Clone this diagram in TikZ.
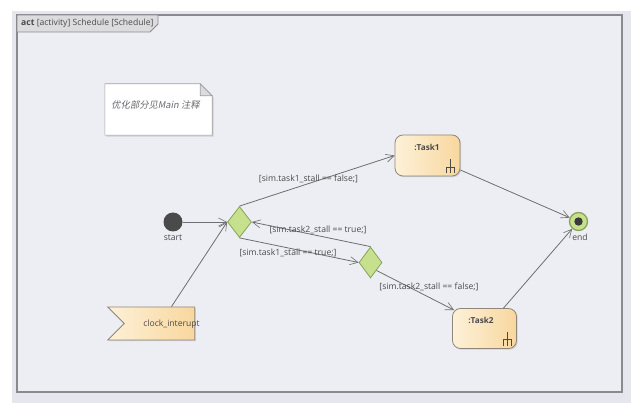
\documentclass[tikz,border=0pt]{standalone}
\usepackage{fontspec}
\setmainfont{Open Sans}
\newfontfamily\cjk[FakeSlant=0.2]{Noto Sans CJK SC}
\usetikzlibrary{arrows.meta,shapes.geometric,shapes.symbols,calc,shadows}
\definecolor{bgouter}{HTML}{E6E7EE}
\definecolor{bginner}{HTML}{EDEEF3}
\definecolor{framec}{HTML}{8A8A8E}
\definecolor{tabfill}{HTML}{DCDCDE}
\definecolor{linec}{HTML}{6E6E6E}
\definecolor{txtc}{HTML}{4A4A4A}
\definecolor{taskl}{HTML}{FDF1D8}
\definecolor{taskr}{HTML}{F8D79E}
\definecolor{taskborder}{HTML}{8E8678}
\definecolor{dfill}{HTML}{C6E08E}
\definecolor{dborder}{HTML}{86A456}
\definecolor{enddot}{HTML}{3A3A3A}
\definecolor{startc}{HTML}{4A4A4A}
\definecolor{notetxt}{HTML}{6A6A70}
\tikzset{
  conn/.style={draw=linec, line width=0.8pt, -{Straight Barb[length=8pt,width=8pt,line width=0.6pt]}},
  lbl/.style={font=\fontsize{8.6}{10}\selectfont, text=txtc, inner sep=0pt},
  tasklbl/.style={font=\fontsize{8.2}{10}\selectfont\bfseries, text=txtc, inner sep=0pt},
  taskbox/.style={draw=taskborder, line width=0.8pt, rounded corners=8pt, left color=taskl, right color=taskr,
    minimum width=65pt, minimum height=41pt, inner sep=0pt,
    drop shadow={shadow xshift=1.2pt, shadow yshift=-1.2pt, opacity=0.25}},
  decis/.style={diamond, draw=dborder, line width=0.8pt, fill=dfill, minimum width=24pt, minimum height=31pt, inner sep=0pt},
  rakec/.style={draw=txtc, line width=0.6pt},
}
\begin{document}
\begin{tikzpicture}[x=1pt,y=-1pt]
\useasboundingbox (0,0) rectangle (643,403);
\fill[white] (0,0) rectangle (643,403);
\fill[bgouter] (12,11) rectangle (631,403);
\draw[framec, line width=1.2pt, fill=bginner] (17,15) rectangle (622,392);
\draw[framec, line width=0.8pt, fill=tabfill] (17,15) -- (158,15) -- (158,24) -- (150,32) -- (17,32) -- cycle;
\node[lbl, anchor=west] (title) at (21,23.5) {\textbf{act} [activity] Schedule [Schedule]};

% note
\node[minimum width=107pt, minimum height=51pt, inner sep=0pt] (note) at (158.5,109.5) {};
\fill[black, opacity=0.12] ([shift={(1.5,1.5)}]note.north west) -- ([shift={(-10.5,1.5)}]note.north east) -- ([shift={(1.5,13.5)}]note.north east) -- ([shift={(1.5,1.5)}]note.south east) -- ([shift={(1.5,1.5)}]note.south west) -- cycle;
\draw[draw=framec!80, line width=0.6pt, fill=white] (note.north west) -- ([xshift=-12pt]note.north east) -- ([yshift=-12pt]note.north east) -- (note.south east) -- (note.south west) -- cycle;
\draw[draw=framec!80, line width=0.6pt, fill=tabfill] ([xshift=-12pt]note.north east) -- ([shift={(-12,12)}]note.north east) -- ([yshift=-12pt]note.north east) -- cycle;
\node[inner sep=0pt, text=notetxt, font=\cjk\fontsize{9.3}{11}\selectfont] (notetext) at (155.5,105) {优化部分见Main 注释};

% nodes
\node[circle, fill=startc, minimum size=19pt, inner sep=0pt] (start) at (173,222) {};
\node[lbl] (startlbl) at (173,237.5) {start};
\node[decis] (d1) at (239.5,222) {};
\node[decis, minimum width=23pt] (d2) at (370.5,262.5) {};
\node[taskbox] (task1) at (427.5,155.5) {};
\node[tasklbl] (t1lbl) at (427,147) {:Task1};
\node[taskbox, minimum width=64pt, minimum height=40pt] (task2) at (484.5,328.5) {};
\node[tasklbl] (t2lbl) at (481,320) {:Task2};
\node[circle, draw=dborder, line width=1.3pt, fill=dfill, minimum size=18pt, inner sep=0pt] (endn) at (578.5,221.5) {};
\fill[enddot] (endn.center) circle (4.2pt);
\node[lbl] (endlbl) at (580,237.5) {end};
\node[signal, signal from=west, signal to=nowhere, draw=taskborder, line width=0.8pt, left color=taskl, right color=taskr,
  minimum width=87pt, minimum height=33pt, inner sep=0pt,
  drop shadow={shadow xshift=1.2pt, shadow yshift=-1.2pt, opacity=0.25}] (clock) at (159.5,323.5) {};
\node[lbl] (clocktxt) at (171.5,324) {clock\_interupt};

% rakes
\draw[rakec] ([shift={(-10,-17)}]task1.south east) -- ([shift={(-10,-3)}]task1.south east)
  ([shift={(-14,-3)}]task1.south east) -- ([shift={(-14,-9.5)}]task1.south east) -- ([shift={(-6,-9.5)}]task1.south east) -- ([shift={(-6,-3)}]task1.south east);
\draw[rakec] ([shift={(-10,-17)}]task2.south east) -- ([shift={(-10,-3)}]task2.south east)
  ([shift={(-14,-3)}]task2.south east) -- ([shift={(-14,-9.5)}]task2.south east) -- ([shift={(-6,-9.5)}]task2.south east) -- ([shift={(-6,-3)}]task2.south east);

% connectors
\draw[conn] (start) -- (d1.west);
\draw[conn] ([xshift=12pt]clock.north) -- (d1.west);
\draw[conn] (d1.north) -- (task1.west);
\draw[conn] (d2.north) -- (d1.east);
\draw[conn] (d1.south) -- (d2.west);
\draw[conn] (d2.south east) -- ([shift={(2,2)}]task2.north west);
\draw[conn] ([yshift=-14.5pt]task1.east) -- (endn);
\draw[conn] ([xshift=19pt]task2.north) -- (endn);

% guard labels
\node[lbl] (g1) at (308.5,179) {[sim.task1\_stall == false;]};
\node[lbl] (g2) at (318,230) {[sim.task2\_stall == true;]};
\node[lbl] (g3) at (288,253) {[sim.task1\_stall == true;]};
\node[lbl] (g4) at (429,287) {[sim.task2\_stall == false;]};
\end{tikzpicture}
\end{document}
